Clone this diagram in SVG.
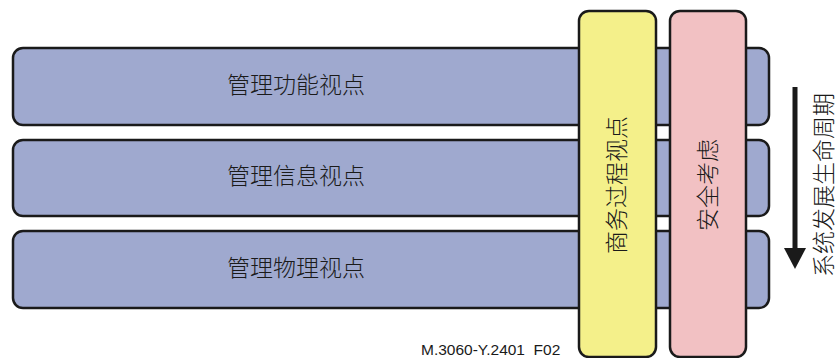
<svg xmlns="http://www.w3.org/2000/svg" width="840" height="358" viewBox="0 0 840 358">
<style>
.bar{stroke:#1a1a1a;stroke-width:2.5}
.blue{fill:#9fa9cf}
.yellow{fill:#f4f08a}
.pink{fill:#f2c1c3}
.cjk{font-family:"Noto Sans CJK SC","Noto Sans CJK JP",sans-serif;font-size:23px;fill:#1a1a1a;font-weight:300}
.lbl{font-family:"Liberation Sans",Arial,sans-serif;font-size:15.5px;fill:#1a1a1a;white-space:pre}
</style>
<rect width="840" height="358" fill="#ffffff"/>
<g id="view-function">
<rect class="bar blue" x="13" y="48" width="756" height="77" rx="10"/>
<text class="cjk" x="296" y="93" text-anchor="middle">管理功能视点</text>
</g>
<g id="view-information">
<rect class="bar blue" x="13" y="140" width="756" height="76" rx="10"/>
<text class="cjk" x="296" y="184" text-anchor="middle">管理信息视点</text>
</g>
<g id="view-physical">
<rect class="bar blue" x="13" y="231" width="756" height="77" rx="10"/>
<text class="cjk" x="296" y="276" text-anchor="middle">管理物理视点</text>
</g>
<g id="business-process">
<rect class="bar yellow" x="579" y="11" width="77" height="346" rx="10"/>
<text class="cjk" transform="translate(625,185) rotate(-90)" text-anchor="middle">商务过程视点</text>
</g>
<g id="security">
<rect class="bar pink" x="670" y="11" width="76" height="346" rx="10"/>
<text class="cjk" transform="translate(716,185) rotate(-90)" text-anchor="middle">安全考虑</text>
</g>
<g id="connectors">
<line x1="795" y1="87" x2="795" y2="250" stroke="#1a1a1a" stroke-width="5"/>
<polygon points="784,248 806,248 795,269" fill="#1a1a1a"/>
</g>
<g id="lifecycle-label">
<text class="cjk" transform="translate(832,185) rotate(-90)" text-anchor="middle">系统发展生命周期</text>
</g>
<text class="lbl" x="421" y="355" xml:space="preserve">M.3060-Y.2401  F02</text>
</svg>
